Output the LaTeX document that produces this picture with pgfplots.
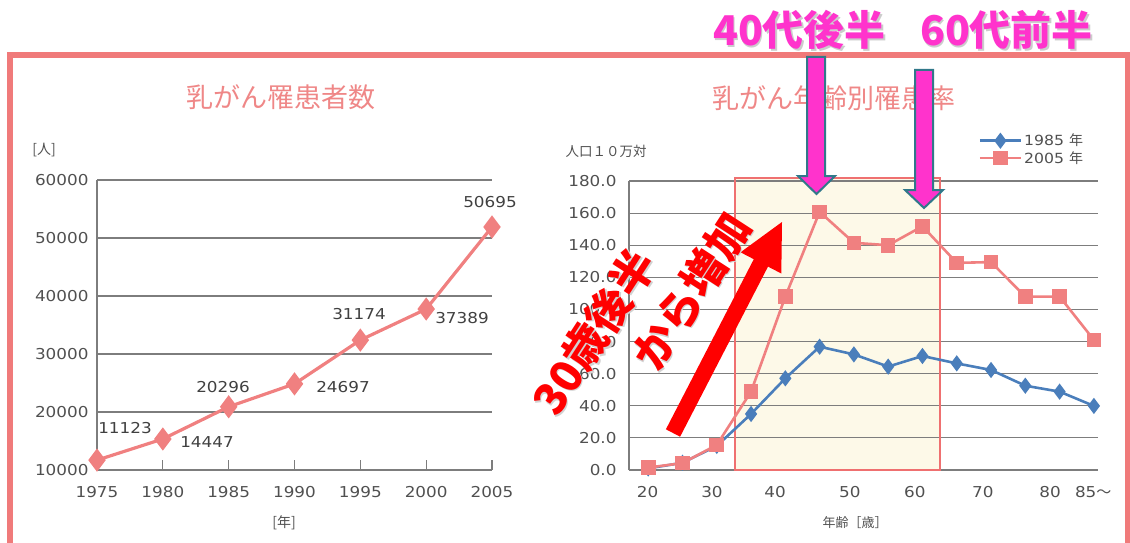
\documentclass[border=0pt]{standalone}
\usepackage{pgfplots}
\pgfplotsset{compat=1.18}
\usepackage{fontspec}
\setmainfont{DejaVu Sans}
\newfontfamily\num{DejaVu Sans}[FakeStretch=1.12]
\newfontfamily\jp{Noto Sans CJK JP}
\definecolor{framec}{RGB}{240,122,122}
\definecolor{salmon}{RGB}{240,128,128}
\definecolor{titlec}{RGB}{239,135,135}
\definecolor{blueS}{RGB}{74,126,187}
\definecolor{gridc}{RGB}{125,125,125}
\definecolor{labc}{RGB}{80,80,80}
\definecolor{magen}{RGB}{255,51,204}
\definecolor{tealc}{RGB}{49,120,138}
\definecolor{boxfill}{RGB}{253,249,232}
\definecolor{boxline}{RGB}{239,112,112}
\begin{document}
\begin{tikzpicture}[x=1pt,y=1pt]
\draw[framec, line width=6pt] (10pt,-55pt) rectangle (1128pt,-546pt);
% titles
\node[titlec, font=\jp\fontsize{27}{30}\selectfont] at (281pt,-97pt) {乳がん罹患者数};
\node[titlec, font=\jp\fontsize{27}{30}\selectfont] at (834pt,-98pt) {乳がん年齢別罹患率};
% left chart
\begin{axis}[
  at={(97pt,-470pt)}, anchor=south west, scale only axis,
  width=395pt, height=290pt,
  xmin=1975, xmax=2005, ymin=10000, ymax=60000,
  scaled x ticks=false, scaled y ticks=false,
  axis lines*=left, axis line style={gridc, line width=1.2pt, -},
  xtick={1975,1980,1985,1990,1995,2000,2005},
  xticklabels={1975,1980,1985,1990,1995,2000,2005},
  ytick={10000,20000,30000,40000,50000,60000},
  yticklabels={10000,20000,30000,40000,50000,60000},
  ymajorgrids, grid style={gridc, line width=1.2pt},
  tick align=inside, major tick length=10pt,
  xtick style={gridc, line width=1.2pt}, ytick style={draw=none},
  tick label style={text=labc, font=\num\fontsize{15}{18}\selectfont},
  xticklabel style={yshift=-13pt},
  yticklabel style={xshift=-5pt},
  clip=false,
]
\addplot[salmon, line width=3.2pt, mark=diamond*, mark size=9pt, mark options={solid}]
  coordinates {(1975,11700) (1980,15350) (1985,20900) (1990,24850) (1995,32400) (2000,37750) (2005,51900)};
\end{axis}
\begin{scope}[every node/.style={text=black!75, font=\num\fontsize{15}{18}\selectfont}]
\node at (125pt,-428pt) {11123};
\node at (207pt,-442pt) {14447};
\node at (223pt,-387pt) {20296};
\node at (343pt,-387pt) {24697};
\node at (359pt,-314pt) {31174};
\node at (462pt,-318pt) {37389};
\node at (490pt,-202pt) {50695};
\end{scope}
\node[text=labc, font=\jp\fontsize{14}{16}\selectfont] at (44pt,-150pt) {[人]};
\node[text=labc, font=\jp\fontsize{14}{16}\selectfont] at (284pt,-523pt) {[年]};
% right chart
\begin{axis}[
  at={(629pt,-470pt)}, anchor=south west, scale only axis,
  width=469pt, height=289pt,
  xmin=17.2, xmax=85.6, ymin=0, ymax=180,
  scaled x ticks=false, scaled y ticks=false,
  axis lines*=left, axis line style={gridc, line width=1.2pt, -},
  xtick={19.9,29.3,38.5,49.4,58.9,68.8,78.6,84.9},
  xticklabels={20,30,40,50,60,70,80,85{\jp ～}},
  ytick={0,20,40,60,80,100,120,140,160,180},
  yticklabels={0.0,20.0,40.0,60.0,80.0,100.0,120.0,140.0,160.0,180.0},
  ymajorgrids, grid style={gridc, line width=1.2pt},
  xtick style={draw=none}, ytick style={draw=none},
  tick label style={text=labc, font=\num\fontsize{15}{18}\selectfont},
  xticklabel style={yshift=-13pt},
  yticklabel style={xshift=-9pt},
  set layers, clip=false,
  legend image code/.code={\draw[mark repeat=2,mark phase=2,#1] plot coordinates {(0pt,0pt) (20.5pt,0pt) (41pt,0pt)};},
  legend style={draw=none, fill=none, at={(0.745,1.17)}, anchor=north west,
    font=\num\fontsize{14}{17}\selectfont, text=labc, row sep=0pt, inner sep=0pt,
    nodes={inner sep=2pt}},
  legend cell align=left,
]
\addplot[draw=none, fill=boxfill, on layer=axis background, forget plot]
  coordinates {(32.68,181.9) (62.57,181.9)} \closedcycle;
\draw[boxline, line width=2.5pt] (axis cs:32.68,0) rectangle (axis cs:62.57,181.9);
\addplot[blueS, line width=2.6pt, mark=diamond*, mark size=6pt, mark options={solid}]
  coordinates {(20,1) (25,4.5) (30,15) (35,34.9) (40,57.1) (45,76.8) (50,72) (55,64.4) (60,71) (65,66.4) (70,62.3) (75,52.5) (80,48.8) (85,39.9)};
\addlegendentry{1985 {\jp 年}}
\addplot[salmon, line width=2.6pt, mark=square*, mark size=6pt, mark options={solid}]
  coordinates {(20,1.5) (25,4.3) (30,15.6) (35,48.8) (40,108) (45,160.8) (50,141.5) (55,140) (60,151.8) (65,129) (70,129.5) (75,108) (80,108) (85,81)};
\addlegendentry{2005 {\jp 年}}
\end{axis}
\node[text=labc, font=\jp\fontsize{13.5}{16}\selectfont] at (606pt,-151pt) {人口１０万対};
\node[text=labc, font=\jp\fontsize{13}{16}\selectfont] at (855pt,-523pt) {年齢［歳］};
% red arrow and text
\fill[red] (665.9pt,-429.3pt) -- (753.8pt,-259.2pt) -- (740.5pt,-252.3pt) -- (782pt,-222pt) -- (781.3pt,-273.5pt) -- (768.0pt,-266.6pt) -- (680.1pt,-436.7pt) -- cycle;
\node[gray!35, rotate=57, font=\jp\bfseries\fontsize{44}{48}\selectfont] at (595.5pt,-333.5pt) {30歳後半};
\node[red, rotate=57, font=\jp\bfseries\fontsize{44}{48}\selectfont] at (594pt,-332pt) {30歳後半};
\node[gray!35, rotate=57, font=\jp\bfseries\fontsize{44}{48}\selectfont] at (692.5pt,-292.5pt) {から増加};
\node[red, rotate=57, font=\jp\bfseries\fontsize{44}{48}\selectfont] at (691pt,-291pt) {から増加};
% magenta arrows
\filldraw[fill=magen, draw=tealc, line width=2pt] (807pt,-57pt) -- (807pt,-176pt) -- (798pt,-176pt) -- (816.5pt,-194pt) -- (835pt,-176pt) -- (825pt,-176pt) -- (825pt,-57pt) -- cycle;
\filldraw[fill=magen, draw=tealc, line width=2pt] (915pt,-70pt) -- (915pt,-190pt) -- (905pt,-190pt) -- (924pt,-208pt) -- (943pt,-190pt) -- (933pt,-190pt) -- (933pt,-70pt) -- cycle;
% magenta texts
\node[gray!40, font=\jp\bfseries\fontsize{41}{44}\selectfont] at (801pt,-31.5pt) {40代後半};
\node[magen, font=\jp\bfseries\fontsize{41}{44}\selectfont] at (799.5pt,-30pt) {40代後半};
\node[gray!40, font=\jp\bfseries\fontsize{41}{44}\selectfont] at (1008pt,-31.5pt) {60代前半};
\node[magen, font=\jp\bfseries\fontsize{41}{44}\selectfont] at (1006.5pt,-30pt) {60代前半};
\pgfresetboundingbox
\useasboundingbox (0pt,0pt) rectangle (1130pt,-543pt);
\end{tikzpicture}
\end{document}
